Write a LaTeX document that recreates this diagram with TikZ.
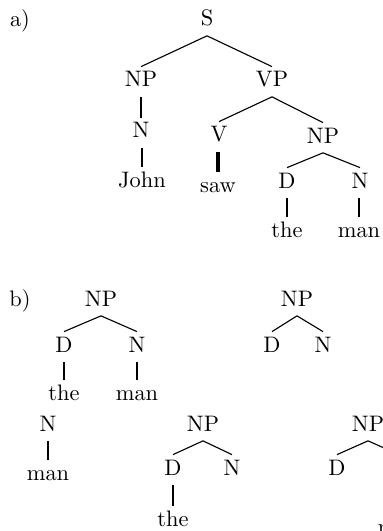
\documentclass[tikz,border=0pt]{standalone}
\begin{document}
\begin{tikzpicture}[x=0.4464pt,y=-0.4464pt,
  lbl/.style={inner sep=0pt, anchor=base, text height=6.9pt, text depth=0pt},
  br/.style={line width=0.5pt},
  vl/.style={line width=1.3pt},
  vlthick/.style={line width=2pt}]
\useasboundingbox (0,0) rectangle (383,531);
\newcommand\tedge[3][br]{\draw[#1] ([yshift=-4.2pt]#2.south) -- ([yshift=2pt]#3.north);}
\newcommand\vedge[3][vl]{\draw[#1] (#3.north |- #2.south) ++(0,9.4) -- ([yshift=1.8pt]#3.north);}
% a)
\node[lbl] (la) at (20,27) {a)};
\node[lbl] (S) at (207,26) {S};
\node[lbl] (NPa) at (141,87) {NP};
\node[lbl] (VPa) at (272,87) {VP};
\node[lbl] (Na) at (141,138) {N};
\node[lbl] (Va) at (219,142) {V};
\node[lbl] (NPa2) at (323,143) {NP};
\node[lbl] (John) at (142,187) {John};
\node[lbl] (saw) at (218,192) {saw};
\node[lbl] (Da) at (287,188) {D};
\node[lbl] (Na2) at (360,188) {N};
\node[lbl] (thea) at (287,237) {the};
\node[lbl] (mana) at (359,237) {man};
\tedge{S}{NPa}
\tedge{S}{VPa}
\vedge{NPa}{Na}
\vedge{Na}{John}
\tedge{VPa}{Va}
\tedge{VPa}{NPa2}
\vedge[vlthick]{Va}{saw}
\tedge{NPa2}{Da}
\tedge{NPa2}{Na2}
\vedge{Da}{thea}
\vedge{Na2}{mana}
% b)
\node[lbl] (lb) at (20,306) {b)};
\node[lbl] (NPb1) at (101,306) {NP};
\node[lbl] (Db1) at (64,352) {D};
\node[lbl] (Nb1) at (137,352) {N};
\node[lbl] (theb1) at (64,400) {the};
\node[lbl] (manb1) at (137,400) {man};
\tedge{NPb1}{Db1}
\tedge{NPb1}{Nb1}
\vedge{Db1}{theb1}
\vedge{Nb1}{manb1}
\node[lbl] (NPb2) at (297,306) {NP};
\node[lbl] (Db2) at (272,352) {D};
\node[lbl] (Nb2) at (323,352) {N};
\tedge{NPb2}{Db2}
\tedge{NPb2}{Nb2}
\node[lbl] (Nb3) at (48,431) {N};
\node[lbl] (manb3) at (48,480) {man};
\vedge{Nb3}{manb3}
\node[lbl] (NPb4) at (203,431) {NP};
\node[lbl] (Db4) at (173,475) {D};
\node[lbl] (Nb4) at (232,475) {N};
\node[lbl] (theb4) at (173,526) {the};
\tedge{NPb4}{Db4}
\tedge{NPb4}{Nb4}
\vedge{Db4}{theb4}
\node[lbl] (NPb5) at (368,431) {NP};
\node[lbl] (Db5) at (337,475) {D};
\node[lbl] (Nb5) at (399,475) {N};
\node[lbl] (manb5) at (399,534) {man};
\tedge{NPb5}{Db5}
\tedge{NPb5}{Nb5}
\vedge{Nb5}{manb5}
\end{tikzpicture}
\end{document}
